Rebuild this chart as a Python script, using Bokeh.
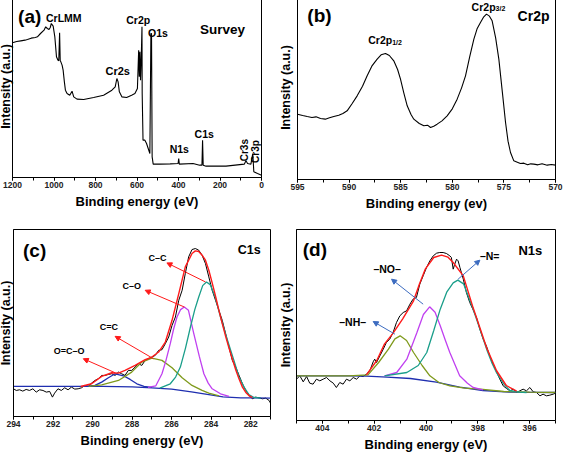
import math
from bokeh.plotting import figure
from bokeh.layouts import row, column
from bokeh.models import Range1d, SingleIntervalTicker, FixedTicker, Arrow, NormalHead
from bokeh.core.properties import value
from bokeh.embed import file_html
from bokeh.resources import INLINE

# ---------------- data ----------------
# (a) survey
survey_be = [1200, 1180, 1160, 1140, 1128, 1110, 1090, 1080, 1065, 1048,
             1040, 1032, 1024, 1018, 1013, 1004, 996, 988, 981, 977,
             973, 970, 967, 961, 956, 950, 945, 937, 924, 913,
             905, 889, 857, 809, 761, 721, 705, 697, 691, 685,
             673, 650, 626, 610, 598, 592, 589, 586, 583, 579,
             576, 575, 571, 562, 554, 546, 538, 533, 530, 527,
             522, 490, 440, 402, 399, 396, 330, 298, 287, 284,
             281, 267, 171, 83, 75, 67, 51, 45, 42, 37,
             19, 0]
survey_int = [404, 408, 410, 412, 414, 418, 420, 422, 432, 442,
              452, 447, 444, 450, 462, 454, 422, 362, 352, 350,
              434, 350, 347, 337, 322, 287, 262, 252, 247, 259,
              242, 235, 234, 240, 247, 262, 272, 297, 287, 257,
              242, 240, 247, 252, 267, 382, 302, 377, 292, 372,
              452, 252, 112, 112, 102, 87, 72, 432, 432, 62,
              40, 40, 41, 42, 57, 40, 42, 37, 37, 112,
              37, 34, 34, 40, 50, 42, 40, 62, 72, 17,
              12, 7]

# (b) Cr2p
cr2p_be = [595.0, 594.5, 594.06, 593.6, 593.2, 592.77, 592.3, 591.9, 591.48, 591.0,
           590.6, 590.19, 589.7, 589.22, 588.7, 588.25, 587.8, 587.28, 586.9, 586.47,
           586.1, 585.67, 585.3, 585.02, 584.7, 584.37, 584.0, 583.73, 583.2, 582.76,
           582.4, 582.11, 581.8, 581.47, 581.0, 580.50, 580.0, 579.53, 579.1, 578.72,
           578.3, 577.91, 577.6, 577.27, 576.95, 576.69, 576.4, 576.14, 575.8, 575.49,
           575.15, 574.84, 574.6, 574.36, 574.04, 573.7, 573.4, 573.07, 572.7, 572.4,
           572.10, 571.7, 571.3, 570.81, 570.4, 570.0]
cr2p_int = [196, 192, 189, 186, 188, 183, 181, 185, 189, 193,
            198, 206, 228, 251, 280, 311, 340, 361, 374, 378,
            372, 356, 330, 301, 260, 221, 195, 181, 168, 161,
            163, 156, 160, 166, 176, 191, 212, 241, 275, 311,
            370, 421, 452, 471, 488, 496, 490, 476, 425, 361,
            262, 171, 115, 81, 56, 52, 48, 49, 44, 47,
            46, 44, 47, 43, 45, 43]

# (c) C1s
c1s_be = [294.0, 293.86, 293.69, 293.53, 293.36, 293.19, 293.02, 292.85, 292.68, 292.51,
          292.34, 292.17, 292.03, 291.92, 291.75, 291.58, 291.41, 291.24, 291.07, 290.90,
          290.73, 290.56, 290.39, 290.22, 290.05, 289.88, 289.71, 289.54, 289.37, 289.20,
          289.03, 288.86, 288.69, 288.53, 288.36, 288.19, 288.02, 287.85, 287.68, 287.51,
          287.34, 287.17, 287.0, 286.83, 286.66, 286.49, 286.32, 286.15, 285.98, 285.81,
          285.64, 285.47, 285.31, 285.14, 284.97, 284.80, 284.63, 284.46, 284.29, 284.12,
          283.95, 283.78, 283.61, 283.44, 283.27, 283.10, 282.93, 282.76, 282.59, 282.42,
          282.25, 282.08, 281.92, 281.75, 281.58, 281.41, 281.24, 281.07, 281.0]
c1s_raw = [83, 78, 80, 76, 81, 78, 83, 73, 80, 78,
           73, 75, 58, 70, 83, 78, 86, 80, 88, 82,
           83, 86, 93, 90, 100, 108, 113, 123, 123, 126,
           128, 123, 133, 128, 123, 138, 138, 148, 158, 153,
           168, 173, 178, 183, 198, 200, 218, 238, 273, 298,
           348, 378, 428, 478, 500, 503, 498, 483, 458, 418,
           378, 348, 318, 288, 248, 208, 168, 148, 123, 98,
           78, 63, 53, 58, 56, 53, 55, 48, 40]
c1s_fit_be = [290.6, 290.05, 289.54, 289.03, 288.69, 288.36, 287.85, 287.34, 287.0, 286.66,
              286.32, 285.98, 285.64, 285.31, 284.97, 284.80, 284.63, 284.46, 284.29, 284.12,
              283.95, 283.78, 283.61, 283.44, 283.27, 283.10, 282.93, 282.76, 282.59, 282.42,
              282.25, 282.08, 281.92]
c1s_fit = [90, 98, 120, 131, 130, 138, 153, 170, 178, 193,
           223, 288, 368, 448, 488, 496, 494, 483, 468, 438,
           400, 360, 318, 278, 240, 205, 172, 140, 112, 88,
           72, 62, 57]
c1s_bg_be = [294.0, 291.0, 289.5, 288.0, 287.0, 286.0, 285.0, 284.2, 283.4, 282.5, 281.0]
c1s_bg = [90, 90, 90, 89, 86, 82, 74, 66, 59, 56, 55]
occo_be = [290.3, 289.88, 289.54, 289.2, 288.86, 288.44, 288.1, 287.76, 287.4, 287.0]
occo = [90, 93, 103, 116, 128, 122, 111, 98, 90, 87]
ceqc_be = [290.2, 289.54, 288.69, 288.02, 287.51, 287.0, 286.49, 285.98, 285.47, 284.97, 284.46, 284.12, 283.6]
ceqc = [90, 95, 108, 133, 163, 175, 168, 146, 116, 93, 78, 70, 62]
co_be = [287.2, 286.8, 286.49, 286.3, 286.07, 285.9, 285.73, 285.55, 285.36, 285.15,
         284.88, 284.6, 284.37, 284.15, 283.95, 283.53, 283.1]
co = [87, 92, 128, 165, 218, 262, 298, 320, 328, 318,
      248, 180, 128, 100, 83, 68, 60]
cc_be = [286.6, 286.07, 285.8, 285.56, 285.3, 285.05, 284.83, 284.63, 284.43, 284.24,
         284.05, 283.8, 283.53, 283.2, 282.85, 282.6, 282.34, 282.1, 281.83, 281.5]
cc = [85, 98, 118, 148, 205, 268, 320, 358, 392, 403,
      395, 358, 298, 233, 168, 120, 88, 66, 57, 55]

# (d) N1s
n1s_be = [405.0, 404.87, 404.74, 404.61, 404.49, 404.36, 404.23, 404.10, 403.97, 403.84,
          403.71, 403.58, 403.46, 403.33, 403.20, 403.07, 402.94, 402.81, 402.68, 402.55,
          402.43, 402.30, 402.17, 402.04, 401.98, 401.91, 401.78, 401.65, 401.53, 401.40,
          401.27, 401.14, 401.01, 400.88, 400.75, 400.62, 400.50, 400.37, 400.24, 400.11,
          399.98, 399.85, 399.72, 399.59, 399.47, 399.34, 399.21, 399.08, 399.02, 398.95,
          398.89, 398.82, 398.76, 398.69, 398.56, 398.44, 398.31, 398.18, 398.05, 397.92,
          397.79, 397.66, 397.54, 397.41, 397.28, 397.15, 397.02, 396.89, 396.76, 396.63,
          396.51, 396.38, 396.25, 396.12, 395.99, 395.86, 395.73, 395.60, 395.48, 395.35,
          395.22, 395.09, 395.0]
n1s_raw = [124, 134, 116, 132, 112, 109, 124, 119, 124, 129,
           119, 112, 99, 114, 109, 124, 119, 129, 124, 134,
           132, 139, 149, 176, 184, 174, 194, 214, 234, 244,
           264, 294, 314, 324, 329, 349, 364, 369, 409, 434,
           459, 479, 494, 502, 504, 504, 501, 494, 489, 454,
           469, 484, 479, 459, 424, 384, 354, 332, 309, 274,
           244, 222, 194, 169, 147, 124, 104, 96, 89, 94,
           84, 89, 94, 89, 99, 86, 84, 74, 79, 74,
           76, 79, 82]
n1s_fit_be = [402.3, 401.9, 401.6, 401.27, 400.9, 400.48, 400.25, 400.03, 399.7, 399.4,
              399.15, 398.95, 398.56, 398.18, 397.9, 397.66, 397.28, 396.9, 396.5]
n1s_fit = [137, 180, 230, 262, 305, 359, 410, 454, 489, 496,
           490, 474, 434, 338, 274, 218, 150, 105, 88]
n1s_bg_be = [405.0, 403.0, 402.3, 401.5, 400.6, 399.6, 398.7, 397.8, 396.8, 395.0]
n1s_bg = [134, 134, 133, 130, 126, 115, 100, 90, 85, 84]
nh_be = [405.0, 403.0, 402.24, 401.83, 401.45, 401.2, 401.0, 400.75, 400.48, 400.15,
         399.85, 399.5, 399.08, 398.5, 397.9, 397.0, 396.0, 395.0]
nh = [134, 134, 137, 174, 214, 245, 254, 240, 204, 165,
      134, 114, 104, 97, 94, 87, 85, 84]
no_be = [401.6, 401.13, 400.74, 400.35, 400.1, 399.86, 399.65, 399.45, 399.25, 399.08,
         398.7, 398.4, 398.18, 397.8]
no = [134, 144, 184, 264, 318, 341, 325, 284, 240, 204,
      134, 112, 99, 92]
neq_be = [401.6, 400.74, 400.3, 399.97, 399.7, 399.45, 399.2, 398.95, 398.77, 398.55,
          398.18, 397.9, 397.66, 397.45, 397.28, 397.0, 396.76, 396.4, 396.12]
neq = [134, 144, 165, 204, 270, 334, 385, 413, 421, 410,
       334, 270, 214, 172, 144, 110, 90, 85, 84]

# ---------------- styling helpers ----------------
FONT = "Liberation Sans"
RED = "#ff1a1a"
BLUE = "#1f2fb0"
OLIVE = "#7f9a1c"
MAGENTA = "#c040f0"
TEAL = "#1a9e8a"
ARROW_BLUE = "#3d6cc0"


def make_fig(xr, yr, interval, fw, fh, bl, br, bt, bb, xlabel, ystand):
    p = figure(x_range=Range1d(*xr), y_range=Range1d(*yr),
               frame_width=fw, frame_height=fh,
               min_border_left=bl, min_border_right=br,
               min_border_top=bt, min_border_bottom=bb,
               output_backend="svg", toolbar_location=None,
               x_axis_label=xlabel, y_axis_label="Intensity (a.u.)")
    p.background_fill_color = "white"
    p.border_fill_color = "white"
    p.grid.visible = False
    p.outline_line_color = "black"
    p.outline_line_width = 1
    p.outline_line_alpha = 1

    xa = p.xaxis[0]
    xa.ticker = SingleIntervalTicker(interval=interval, num_minor_ticks=2)
    xa.axis_line_color = "black"
    xa.major_tick_out = 3
    xa.major_tick_in = 0
    xa.minor_tick_out = 3
    xa.minor_tick_in = 0
    xa.major_tick_line_color = "black"
    xa.minor_tick_line_color = "black"
    xa.major_label_text_font = FONT
    xa.major_label_text_font_style = "bold"
    xa.major_label_text_font_size = "8.5px"
    xa.major_label_text_color = "#222222"
    xa.major_label_standoff = 1
    xa.axis_label_text_font = FONT
    xa.axis_label_text_font_style = "bold"
    xa.axis_label_text_font_size = "13px"
    xa.axis_label_standoff = 3
    xa.axis_label_text_color = "black"

    ya = p.yaxis[0]
    ya.ticker = FixedTicker(ticks=[])
    ya.major_tick_out = 0
    ya.major_tick_in = 0
    ya.minor_tick_out = 0
    ya.minor_tick_in = 0
    ya.major_label_standoff = 0
    ya.axis_line_color = "black"
    ya.axis_label_text_font = FONT
    ya.axis_label_text_font_style = "bold"
    ya.axis_label_text_font_size = "12.5px"
    ya.axis_label_standoff = ystand
    ya.axis_label_text_color = "black"
    return p


def label(p, xs, ys, texts, size, angle=0.0, align="center", baseline="middle"):
    p.text(x=xs, y=ys, text=texts, text_font=value(FONT), text_font_style="bold",
           text_font_size=size, text_align=align, text_baseline=baseline,
           text_color="black", angle=angle)


def arrow(p, x0, y0, x1, y1, color):
    p.add_layout(Arrow(end=NormalHead(size=5, fill_color=color, line_color=color, line_width=1),
                       x_start=x0, y_start=y0, x_end=x1, y_end=y1,
                       line_color=color, line_width=1))


# ---------------- (a) survey ----------------
pa = make_fig((1200, 0), (0, 546), 200, 249, 182, 20, 14, 2, 46, "Binding energy (eV)", 0)
pa.line(survey_be, survey_int, line_color="black", line_width=1.1)
label(pa, [1117], [484], ["(a)"], "19px")
label(pa, [953, 594, 499, 396, 276], [480, 472, 435, 86, 132],
      ["CrLMM", "Cr2p", "O1s", "N1s", "C1s"], "10.5px")
label(pa, [693], [320], ["Cr2s"], "11px")
label(pa, [188], [445], ["Survey"], "13.5px")
label(pa, [80, 27], [82, 78], ["Cr3s", "Cr3p"], "10px", angle=math.pi / 2)

# ---------------- (b) Cr2p ----------------
pb = make_fig((595, 570), (0, 552), 5, 258, 184, 17, 9, 3, 43, "Binding energy (ev)", 5)
pb.line(cr2p_be, cr2p_int, line_color="black", line_width=1.1)
label(pb, [592.87], [493], ["(b)"], "19px")
label(pb, [572.13], [491], ["Cr2p"], "14px")
label(pb, [585.83, 575.81], [418, 518], ["Cr2p", "Cr2p"], "10.5px", align="right")
label(pb, [585.83, 575.81], [412, 512], ["1/2", "3/2"], "7px", align="left")

# ---------------- (c) C1s ----------------
pc = make_fig((294, 281), (0, 560), 2, 257, 187, 21, 5, 6, 37, "Binding energy (eV)", 1)
pc.line(c1s_be, c1s_raw, line_color="black", line_width=1.0)
pc.line(c1s_bg_be, c1s_bg, line_color=BLUE, line_width=1.3)
pc.line(occo_be, occo, line_color=BLUE, line_width=1.3)
pc.line(ceqc_be, ceqc, line_color=OLIVE, line_width=1.3)
pc.line(co_be, co, line_color=MAGENTA, line_width=1.3)
pc.line(cc_be, cc, line_color=TEAL, line_width=1.3)
pc.line(c1s_fit_be, c1s_fit, line_color=RED, line_width=1.4)
label(pc, [292.93], [498], ["(c)"], "19px")
label(pc, [282.08], [500], ["C1s"], "12.5px")
label(pc, [286.71, 288.02, 289.17, 291.19], [475, 391, 268, 195],
      ["C–C", "C–O", "C=C", "O=C–O"], "9px")
arrow(pc, 284.29, 403, 286.24, 460, RED)
arrow(pc, 285.36, 328, 287.34, 378, RED)
arrow(pc, 286.92, 173, 288.86, 240, RED)
arrow(pc, 288.86, 131, 290.47, 173, RED)

# ---------------- (d) N1s ----------------
pd = make_fig((405, 395), (0, 573), 2, 259, 191, 20, 5, 7, 32, "Binding energy (eV)", 4)
pd.line(n1s_be, n1s_raw, line_color="black", line_width=1.0)
pd.line(n1s_bg_be, n1s_bg, line_color=BLUE, line_width=1.3)
pd.line(nh_be, nh, line_color=OLIVE, line_width=1.3)
pd.line(no_be, no, line_color=MAGENTA, line_width=1.3)
pd.line(neq_be, neq, line_color=TEAL, line_width=1.3)
pd.line(n1s_fit_be, n1s_fit, line_color=RED, line_width=1.4)
label(pd, [404.29], [514], ["(d)"], "19px")
label(pd, [395.97], [511], ["N1s"], "13px")
label(pd, [397.54, 401.5, 402.83], [494, 454, 297], ["–N=", "–NO–", "–NH–"], "10.5px")
arrow(pd, 398.76, 424, 397.92, 481, ARROW_BLUE)
arrow(pd, 400.11, 349, 401.33, 424, ARROW_BLUE)
arrow(pd, 401.2, 259, 402.04, 297, ARROW_BLUE)

layout = column(row(pa, pb), row(pc, pd), margin=(-8, 0, 0, -8))

open("out.html", "w").write(file_html(layout, INLINE))
